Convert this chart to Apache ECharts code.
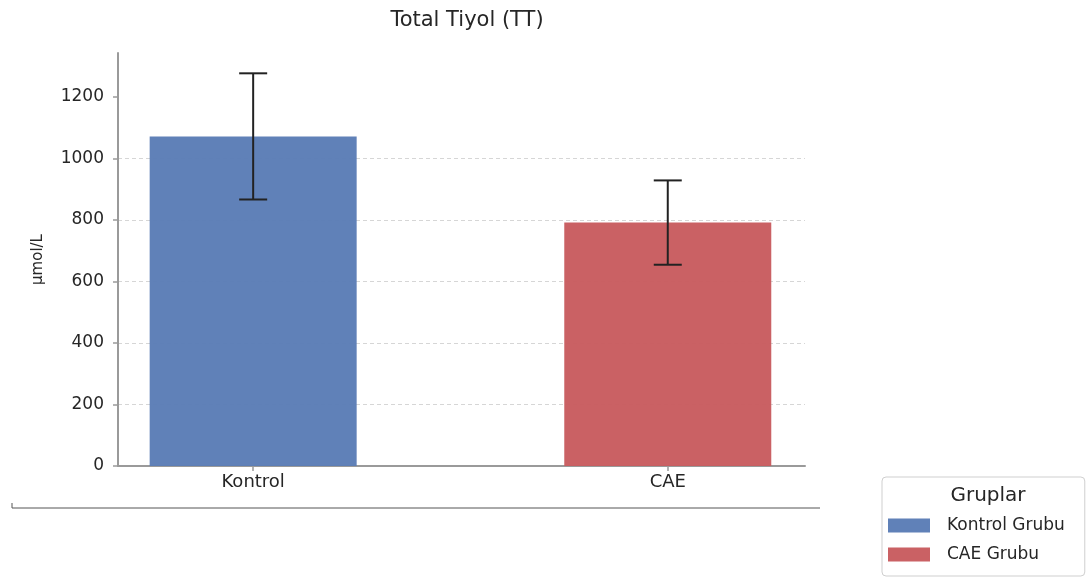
<!DOCTYPE html>
<html>
<head>
<meta charset="utf-8">
<script src="https://cdn.jsdelivr.net/npm/echarts@6/dist/echarts.min.js"></script>
<style>
  html, body { margin: 0; padding: 0; background: #fff; }
  #chart { width: 1092px; height: 579px; }
</style>
</head>
<body>
<div id="chart"></div>
<script>
// Total thiol (TT) by group: mean with ±SD error bars
const categories = ['Kontrol', 'CAE'];
const groupNames = ['Kontrol Grubu', 'CAE Grubu'];
const means = [1071, 791];
const sds = [205, 137];
const yTicks = [0, 200, 400, 600, 800, 1000, 1200];

const colors = ['#5b7db6', '#c85c5f'];
const font = '"DejaVu Sans", "Noto Sans", sans-serif';
const ink = '#262626';

const chart = echarts.init(document.getElementById('chart'), null, { renderer: 'canvas' });

const barSeries = categories.map((c, i) => ({
  name: groupNames[i],
  type: 'bar',
  data: [[i, means[i]]],
  barWidth: 207,
  barGap: '-100%',
  itemStyle: { color: colors[i], opacity: 0.97 },
  z: 2
}));

const errorData = categories.map((c, i) => [i, means[i] - sds[i], means[i] + sds[i]]);

const errorSeries = {
  type: 'custom',
  data: errorData,
  z: 5,
  silent: true,
  renderItem: function (params, api) {
    const x = api.value(0);
    const lo = api.coord([x, api.value(1)]);
    const hi = api.coord([x, api.value(2)]);
    const half = 14;
    const style = { stroke: '#222', lineWidth: 2 };
    return {
      type: 'group',
      children: [
        { type: 'line', shape: { x1: lo[0], y1: lo[1], x2: hi[0], y2: hi[1] }, style },
        { type: 'line', shape: { x1: hi[0] - half, y1: hi[1], x2: hi[0] + half, y2: hi[1] }, style },
        { type: 'line', shape: { x1: lo[0] - half, y1: lo[1], x2: lo[0] + half, y2: lo[1] }, style }
      ]
    };
  }
};

chart.setOption({
  animation: false,
  backgroundColor: '#ffffff',
  title: [
    {
      text: 'Total Tiyol (TT)',
      left: 462, top: 5, textAlign: 'center',
      textStyle: { fontFamily: font, fontSize: 21, fontWeight: 'normal', color: ink }
    },
    {
      text: 'Gruplar',
      left: 983, top: 481, textAlign: 'center',
      textStyle: { fontFamily: font, fontSize: 20, fontWeight: 'normal', color: ink }
    }
  ],
  grid: { left: 118, right: 287, top: 53, bottom: 113, containLabel: false },
  xAxis: {
    type: 'value',
    min: -0.326, max: 1.331,
    axisLine: { show: true, onZero: false, lineStyle: { color: '#9a9a9a', width: 2 } },
    axisTick: { show: true, customValues: categories.map((c, i) => i), length: 5, lineStyle: { color: '#9a9a9a', width: 1.5 } },
    axisLabel: {
      customValues: categories.map((c, i) => i),
      formatter: v => categories[Math.round(v)],
      fontFamily: font, fontSize: 18, color: ink, margin: 7
    },
    splitLine: { show: false }
  },
  yAxis: {
    type: 'value',
    min: 0, max: 1342, interval: 200,
    name: 'µmol/L',
    nameLocation: 'middle',
    nameGap: 72,
    nameTextStyle: { fontFamily: font, fontSize: 15, color: ink },
    axisLine: { show: true, onZero: false, lineStyle: { color: '#9a9a9a', width: 2 } },
    axisTick: { show: true, customValues: yTicks, length: 5, lineStyle: { color: '#9a9a9a', width: 1.5 } },
    axisLabel: {
      customValues: yTicks,
      formatter: v => String(v),
      fontFamily: font, fontSize: 17, color: ink, margin: 14
    },
    splitLine: {
      show: true, showMinLine: false, showMaxLine: false,
      lineStyle: { color: '#d6d6d6', type: [4, 3], width: 1 }
    }
  },
  legend: {
    orient: 'vertical',
    left: 882, top: 477,
    data: groupNames,
    itemWidth: 42, itemHeight: 14, itemGap: 12,
    padding: [40, 20, 13, 6],
    borderColor: '#cfcfcf', borderWidth: 1, borderRadius: 4,
    icon: 'rect',
    selectedMode: false,
    textStyle: { fontFamily: font, fontSize: 17, color: ink, padding: [0, 0, 0, 12] }
  },
  graphic: [
    {
      type: 'polyline',
      shape: { points: [[12, 503], [12, 508], [820, 508]] },
      style: { stroke: '#555', lineWidth: 1, fill: null },
      silent: true
    }
  ],
  series: [...barSeries, errorSeries]
});
</script>
</body>
</html>
